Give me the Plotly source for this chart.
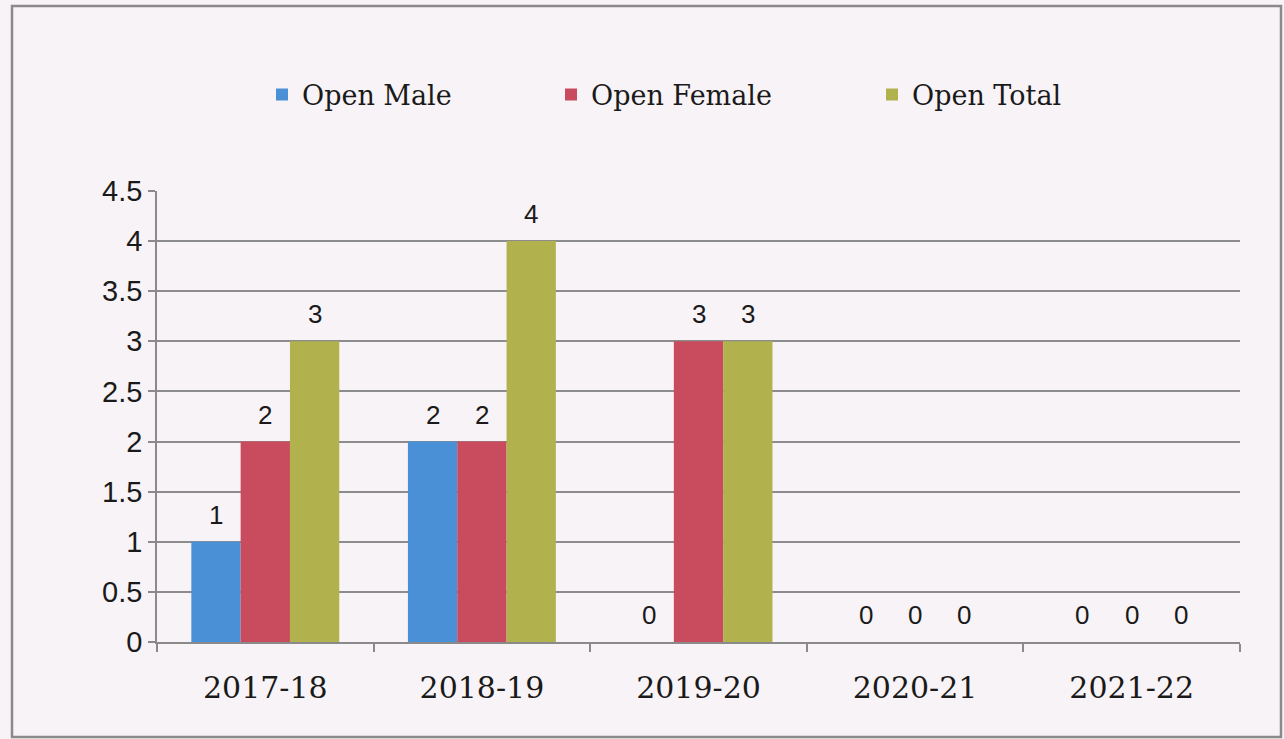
import plotly.graph_objects as go

categories = ["2017-18", "2018-19", "2019-20", "2020-21", "2021-22"]
open_male = [1, 2, 0, 0, 0]
open_female = [2, 2, 3, 0, 0]
open_total = [3, 4, 3, 0, 0]
series_names = ["Open Male", "Open Female", "Open Total"]
series_values = [open_male, open_female, open_total]
colors = ["#4a90d6", "#c84c5e", "#b1b24e"]
y_ticks = [0, 0.5, 1, 1.5, 2, 2.5, 3, 3.5, 4, 4.5]
y_tick_text = ["0", "0.5", "1", "1.5", "2", "2.5", "3", "3.5", "4", "4.5"]

W, H = 1284, 739
ML, MR, MT, MB = 157, 44, 191, 97
BARGAP = 0.317
plot_w = W - ML - MR
bar_w = plot_w / len(categories) * (1 - BARGAP) / len(series_names)

legend_keys = ["legend", "legend2", "legend3"]
legend_x = [262, 551, 872]

fig = go.Figure()
for i, (name, vals) in enumerate(zip(series_names, series_values)):
    fig.add_trace(go.Bar(
        x=categories, y=vals, name=name, showlegend=True,
        marker=dict(color=colors[i], line=dict(width=0)),
        legend=legend_keys[i],
    ))

annotations = []
for i, vals in enumerate(series_values):
    for c, v in zip(categories, vals):
        annotations.append(dict(
            x=c, y=v, xref="x", yref="y", text=str(v), showarrow=False,
            xshift=(i - 1) * bar_w, yshift=27, yanchor="middle",
            font=dict(family="Liberation Sans", size=26, color="#1a1a1a"),
        ))

layout_legends = {}
for key, lx in zip(legend_keys, legend_x):
    layout_legends[key] = dict(
        x=lx / W, xref="container", xanchor="left",
        y=1 - 95 / H, yref="container", yanchor="middle",
        orientation="h", bgcolor="rgba(0,0,0,0)",
        font=dict(family="DejaVu Serif", size=27, color="#1a1a1a"),
    )

fig.update_layout(
    width=W, height=H, showlegend=True,
    margin=dict(l=ML, r=MR, t=MT, b=MB),
    paper_bgcolor="#f8f3f6", plot_bgcolor="#f8f3f6",
    barmode="group", bargap=BARGAP, bargroupgap=0,
    annotations=annotations,
    shapes=[dict(type="rect", xref="paper", yref="paper",
                 x0=(12 - ML) / plot_w, x1=(1281 - ML) / plot_w,
                 y0=-(737 - (H - MB)) / (H - MT - MB),
                 y1=1 + (MT - 6) / (H - MT - MB),
                 line=dict(color="#8a8a8a", width=2.5), layer="below")],
    **layout_legends,
)
fig.update_xaxes(
    type="category", showgrid=False, showline=True, linecolor="#8a8a8a", linewidth=1.5,
    ticks="outside", tickson="boundaries", ticklen=8, tickcolor="#8a8a8a", tickwidth=1.5,
    ticklabelstandoff=18,
    tickfont=dict(family="DejaVu Serif", size=30, color="#1a1a1a"),
)
fig.update_yaxes(
    range=[0, 4.5], tickvals=y_ticks, ticktext=y_tick_text,
    showgrid=True, gridcolor="#8c8c8c", gridwidth=1.5,
    showline=True, linecolor="#8a8a8a", linewidth=1.5,
    ticks="outside", ticklen=7, tickcolor="#8a8a8a", tickwidth=1.5,
    zeroline=False,
    tickfont=dict(family="Liberation Sans", size=29, color="#1a1a1a"),
)
fig.write_html("out.html", config={"displayModeBar": False},
               post_script="document.body.style.margin='0';document.body.style.overflow='hidden';")
